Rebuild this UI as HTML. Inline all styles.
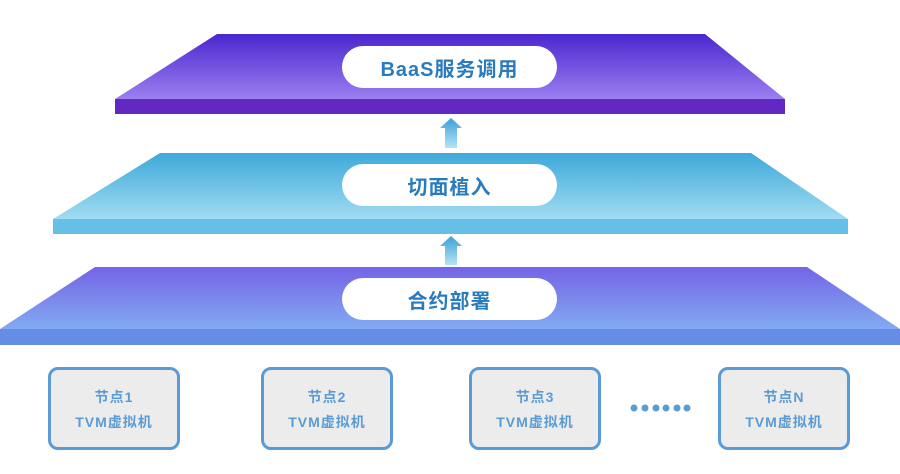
<!DOCTYPE html>
<html><head><meta charset="utf-8"><style>
body{margin:0;background:#fff;width:900px;height:474px;overflow:hidden;font-family:"Liberation Sans","Noto Sans CJK SC",sans-serif}
.pill{position:absolute;left:342px;width:215px;height:42px;border-radius:21px;background:#fff;color:#2a7bbd;font-weight:bold;font-size:20px;display:flex;align-items:center;justify-content:center;letter-spacing:1px}
.node{position:absolute;top:367px;width:126px;height:77px;border:3px solid #5b9bd5;border-radius:10px;background:#ececec;color:#5b9bd5;font-weight:bold;font-size:14px;text-align:center;line-height:25px;letter-spacing:1px}
.node div:first-child{margin-top:15px}
</style></head><body>
<svg width="900" height="474" style="position:absolute;left:0;top:0">
<defs>
<linearGradient id="g1" x1="0" y1="0" x2="0" y2="1"><stop offset="0" stop-color="#4a27cf"/><stop offset="1" stop-color="#9b7ff0"/></linearGradient>
<linearGradient id="g2" x1="0" y1="0" x2="0" y2="1"><stop offset="0" stop-color="#3ea9d9"/><stop offset="1" stop-color="#a0dcf2"/></linearGradient>
<linearGradient id="g3" x1="0" y1="0" x2="0" y2="1"><stop offset="0" stop-color="#7464e6"/><stop offset="1" stop-color="#82aaf2"/></linearGradient>
<linearGradient id="ga" x1="0" y1="0" x2="0" y2="1"><stop offset="0" stop-color="#3aa0d8"/><stop offset="1" stop-color="#b5e3f5"/></linearGradient>
</defs>
<polygon points="217,34 705,34 785,99 115,99" fill="url(#g1)"/>
<rect x="115" y="99" width="670" height="15" fill="#6128c2"/>
<polygon points="160,153 751,153 848,219 53,219" fill="url(#g2)"/>
<rect x="53" y="219" width="795" height="15" fill="#66bfe6"/>
<polygon points="95,267 807,267 900,329 0,329" fill="url(#g3)"/>
<rect x="0" y="329" width="900" height="16" fill="#658de6"/>
<polygon points="451,118 462,128 457,128 457,148 445,148 445,128 440,128" fill="url(#ga)"/>
<polygon points="451,236 462,246 457,246 457,265 445,265 445,246 440,246" fill="url(#ga)"/>
<g fill="#5b9bd5"><circle cx="634" cy="408" r="3.5"/><circle cx="645" cy="408" r="3.5"/><circle cx="656" cy="408" r="3.5"/><circle cx="666" cy="408" r="3.5"/><circle cx="677" cy="408" r="3.5"/><circle cx="687" cy="408" r="3.5"/></g>
</svg>
<div class="pill" style="top:46px">BaaS服务调用</div>
<div class="pill" style="top:164px">切面植入</div>
<div class="pill" style="top:278px">合约部署</div>
<div class="node" style="left:48px"><div>节点1</div><div>TVM虚拟机</div></div>
<div class="node" style="left:261px"><div>节点2</div><div>TVM虚拟机</div></div>
<div class="node" style="left:469px"><div>节点3</div><div>TVM虚拟机</div></div>
<div class="node" style="left:718px"><div>节点N</div><div>TVM虚拟机</div></div>
</body></html>
